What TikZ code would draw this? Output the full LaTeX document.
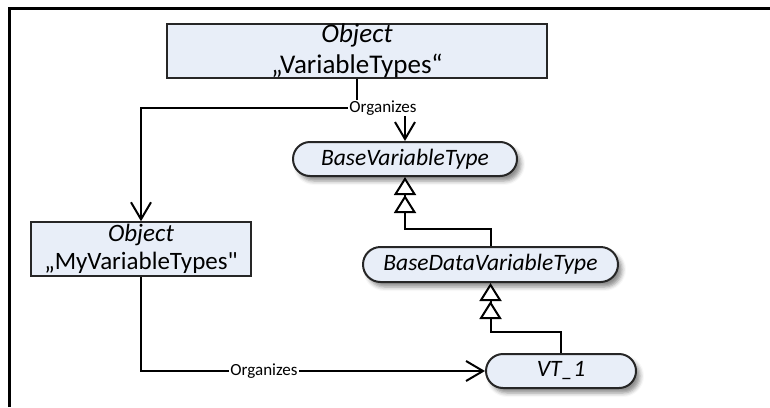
\documentclass[tikz,border=0pt]{standalone}
\usepackage{fontspec}
\setmainfont{Carlito}[Ligatures=TeXOff]
\usetikzlibrary{arrows.meta,shapes.misc,shadows.blur}
\definecolor{nodefill}{HTML}{E8EEF8}
\definecolor{nodeline}{HTML}{262626}
\begin{document}
\begin{tikzpicture}[x=1pt,y=-1pt,
  objbox/.style={draw=nodeline, line width=1.5pt, fill=nodefill, align=center, inner sep=0pt},
  typepill/.style={rounded rectangle, draw=nodeline, line width=2pt, fill=nodefill, inner sep=0pt,
    font=\fontsize{23.5}{27}\selectfont\itshape,
    blur shadow={shadow xshift=4pt, shadow yshift=-5pt, shadow blur radius=4pt, shadow opacity=45}},
  org/.style={line width=2pt, -{Straight Barb[length=17pt,width=20pt]}},
  sub/.style={line width=2pt, -{Triangle[length=18pt,width=22pt,fill=white]Triangle[length=18pt,width=22pt,fill=white]}},
  lbl/.style={fill=white, inner sep=1pt, font=\fontsize{17}{19}\selectfont},
  frame/.style={line width=3pt}]
\useasboundingbox (0,0) rectangle (770,407);
\draw[frame] (9.5,407) -- (9.5,8) -- (770,8);

\node[objbox, minimum width=380pt, minimum height=54pt, font=\fontsize{27}{31}\selectfont] (top) at (357,51) {\textit{Object}\\„VariableTypes“};
\node[objbox, minimum width=220pt, minimum height=54pt, font=\fontsize{25}{28}\selectfont] (mvt) at (141,249) {\textit{Object}\\„MyVariableTypes"};

\node[typepill, minimum width=224pt, minimum height=34pt] (bvt) at (405,159) {BaseVariableType};
\node[typepill, minimum width=255pt, minimum height=35pt] (bdvt) at (490.5,264.5) {BaseDataVariableType};
\node[typepill, minimum width=150pt, minimum height=34pt] (vt) at (561,371) {VT\_1};

\coordinate (j) at (357,108);
\draw[org] (top.south) -- (j) -| (mvt.north);
\draw[org] (top.south) -- (j) -| (bvt.north);
\node[lbl] (l1) at (383,108) {Organizes};

\draw[org] (mvt.south) |- (vt.west);
\node[lbl] (l2) at (264,371) {Organizes};

\draw[sub] (bdvt.north) -- ++(0,-17) -| (bvt.south);
\draw[sub] (vt.north) -- ++(0,-21) -| (bdvt.south);
\end{tikzpicture}
\end{document}
